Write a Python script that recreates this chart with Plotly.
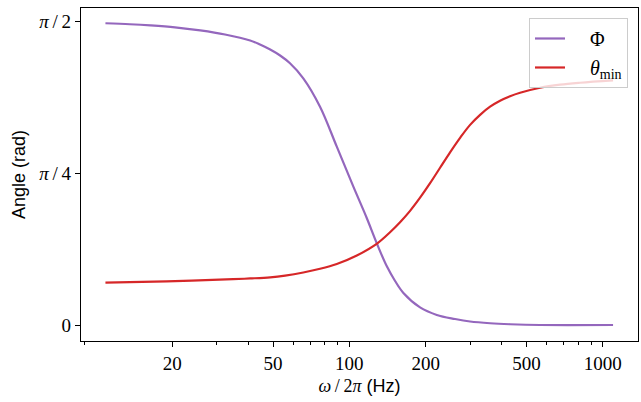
import math
import plotly.graph_objects as go

# Phi curve: frequency (Hz) and angle (rad)
phi_freq = [10.9, 13.6, 16.4, 20.5, 25.8, 32.3, 40.6, 44.4, 48.7, 53.3, 58.3,
            65.8, 76.6, 89.2, 103.7, 117.1, 128.3, 140.4, 151.5, 163.4, 190.1,
            221.3, 261.3, 299.5, 359.2, 430.7, 565.6, 1098]
phi = [1.562, 1.557, 1.551, 1.541, 1.525, 1.504, 1.473, 1.452, 1.426, 1.395,
       1.355, 1.277, 1.130, 0.923, 0.716, 0.554, 0.423, 0.305, 0.228, 0.166,
       0.091, 0.052, 0.031, 0.018, 0.009, 0.004, 0.0, 0.0]

# theta_min curve: frequency (Hz) and angle (rad)
theta_freq = [10.9, 19.0, 34.8, 40.6, 48.7, 55.8, 65.8, 76.6, 89.2, 107.0,
              129.0, 144.7, 158.5, 173.6, 190.1, 208.2, 228.0, 249.7, 273.5,
              299.5, 328.0, 359.2, 393.3, 430.7, 471.7, 565.6, 678.4, 813.6,
              1098]
theta_min = [0.219, 0.226, 0.237, 0.241, 0.247, 0.256, 0.272, 0.291, 0.316,
             0.360, 0.423, 0.480, 0.532, 0.591, 0.659, 0.734, 0.814, 0.894,
             0.969, 1.036, 1.088, 1.130, 1.161, 1.184, 1.202, 1.228, 1.244,
             1.254, 1.266]

x_tick_vals = [20, 50, 100, 200, 500, 1000]
x_tick_text = ["20", "50", "100", "200", "500", "1000"]
x_minor_vals = [9, 30, 40, 60, 70, 80, 90, 300, 400, 600, 700, 800, 900]
y_tick_vals = [0, math.pi / 4, math.pi / 2]
y_tick_text = ["0", "<i>π</i>\u2009/\u20094", "<i>π</i>\u2009/\u20092"]

SERIF = "Liberation Serif"
SANS = "Liberation Sans"
NB = "\u00a0\u00a0\u00a0\u00a0"

fig = go.Figure()
fig.add_trace(go.Scatter(x=phi_freq, y=phi, mode="lines", name=NB + "Φ",
                         line=dict(color="#9467bd", width=2.2, shape="spline",
                                   smoothing=1.0)))
fig.add_trace(go.Scatter(x=theta_freq, y=theta_min, mode="lines",
                         name=NB + "<i>θ</i><sub>min</sub>",
                         line=dict(color="#d62728", width=2.2, shape="spline",
                                   smoothing=1.0)))

fig.update_layout(
    width=641, height=402,
    margin=dict(l=81, r=3, t=8, b=61),
    paper_bgcolor="white", plot_bgcolor="white",
    showlegend=True,
    legend=dict(x=0.982, y=0.97, xanchor="right", yanchor="top",
                bgcolor="rgba(255,255,255,0.8)", bordercolor="#cccccc",
                borderwidth=1, font=dict(family=SERIF, size=20, color="black"),
                tracegroupgap=0),
)
fig.update_xaxes(
    type="log", range=[0.941, 3.139],
    showline=True, linecolor="black", linewidth=1.3, mirror=True,
    showgrid=False, zeroline=False,
    ticks="outside", ticklen=5, tickwidth=1, tickcolor="black",
    tickmode="array", tickvals=x_tick_vals, ticktext=x_tick_text,
    tickfont=dict(family=SERIF, size=19, color="black"),
    minor=dict(tickmode="array", tickvals=x_minor_vals, ticks="outside",
               ticklen=3, tickwidth=0.8, tickcolor="black", showgrid=False),
    title=dict(text="<span style='font-family:Liberation Serif'><i>ω</i>\u2009/\u20092<i>π</i></span> (Hz)",
               font=dict(family=SANS, size=18, color="black"), standoff=6),
)
fig.update_yaxes(
    range=[-0.0828, 1.641],
    showline=True, linecolor="black", linewidth=1.3, mirror=True,
    showgrid=False, zeroline=False,
    ticks="outside", ticklen=5, tickwidth=1, tickcolor="black",
    tickmode="array", tickvals=y_tick_vals, ticktext=y_tick_text,
    tickfont=dict(family=SERIF, size=19, color="black"),
    title=dict(text="Angle (rad)", font=dict(family=SANS, size=18, color="black"),
               standoff=8),
)

fig.write_html("out.html")
